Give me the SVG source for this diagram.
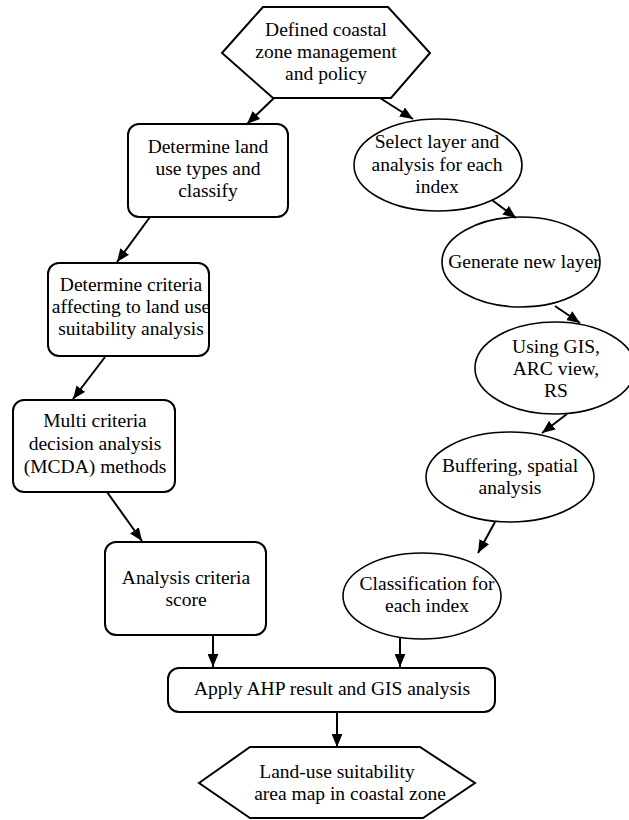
<svg xmlns="http://www.w3.org/2000/svg" width="629" height="820" viewBox="0 0 629 820">
<defs>
<style>
.n{fill:#fff;stroke:#000;stroke-width:2}
.e{fill:#fff;stroke:#000;stroke-width:1.6}
.t{font-family:'Liberation Serif','Times New Roman',serif;font-size:19.5px;fill:#000;text-anchor:middle}
.c line{stroke:#000;stroke-width:2;marker-end:url(#ah)}
</style>
<marker id="ah" viewBox="0 0 12 10" refX="12" refY="5" markerWidth="13" markerHeight="11" markerUnits="userSpaceOnUse" orient="auto">
<path d="M0,0 L12,5 L0,10 z" fill="#000"/>
</marker>
</defs>
<rect width="629" height="820" fill="#fff"/>

<g id="start">
<polygon class="n" points="222,53 263,7 388,7 430,53 391,98 273,98"/>
<text class="t" x="326" y="36">Defined coastal</text>
<text class="t" x="326" y="58">zone management</text>
<text class="t" x="326" y="80">and policy</text>
</g>

<g id="landuse">
<rect class="n" x="128" y="124" width="160" height="93" rx="11"/>
<text class="t" x="208" y="153">Determine land</text>
<text class="t" x="208" y="175">use types and</text>
<text class="t" x="208" y="197">classify</text>
</g>

<g id="criteria">
<rect x="48" y="263" width="161" height="93" rx="11" fill="#fff"/>
<text class="t" x="131" y="291">Determine criteria</text>
<text class="t" x="131" y="313">affecting to land use</text>
<text class="t" x="131" y="335">suitability analysis</text>
<rect x="48" y="263" width="161" height="93" rx="11" fill="none" stroke="#000" stroke-width="2"/>
</g>

<g id="mcda">
<rect class="n" x="13" y="400" width="162" height="92" rx="11"/>
<text class="t" x="95" y="427">Multi criteria</text>
<text class="t" x="95" y="450">decision analysis</text>
<text class="t" x="95" y="473">(MCDA) methods</text>
</g>

<g id="score">
<rect class="n" x="105" y="542" width="161" height="93" rx="11" stroke-width="2.6"/>
<text class="t" x="186" y="584">Analysis criteria</text>
<text class="t" x="186" y="606">score</text>
</g>

<g id="select">
<ellipse class="e" cx="438" cy="165" rx="84" ry="46"/>
<text class="t" x="437" y="148">Select layer and</text>
<text class="t" x="437" y="171">analysis for each</text>
<text class="t" x="437" y="193">index</text>
</g>

<g id="generate">
<ellipse class="e" cx="521" cy="262" rx="79" ry="45"/>
<text class="t" x="524" y="268">Generate new layer</text>
</g>

<g id="gis">
<ellipse class="e" cx="555" cy="368" rx="80" ry="46"/>
<text class="t" x="556" y="353">Using GIS,</text>
<text class="t" x="556" y="375">ARC view,</text>
<text class="t" x="556" y="397">RS</text>
</g>

<g id="buffer">
<ellipse class="e" cx="510" cy="477" rx="84" ry="45"/>
<text class="t" x="510" y="472">Buffering, spatial</text>
<text class="t" x="510" y="494">analysis</text>
</g>

<g id="classify">
<ellipse class="e" cx="422" cy="596" rx="79" ry="43"/>
<text class="t" x="427" y="590">Classification for</text>
<text class="t" x="427" y="612">each index</text>
</g>

<g id="apply">
<rect class="n" x="168" y="668" width="327" height="44" rx="11"/>
<text class="t" x="332" y="695">Apply AHP result and GIS analysis</text>
</g>

<g id="result">
<polygon class="n" points="199,783 250,747 420,747 475,783 423,818 250,818"/>
<text class="t" x="337" y="778">Land-use suitability</text>
<text class="t" x="350" y="800">area map in coastal zone</text>
</g>

<g id="connectors" class="c">
<line x1="274" y1="98" x2="247" y2="124"/>
<line x1="380" y1="98" x2="413" y2="119"/>
<line x1="150" y1="217" x2="117" y2="262"/>
<line x1="105" y1="357" x2="73" y2="399"/>
<line x1="107" y1="492" x2="142" y2="541"/>
<line x1="213" y1="635" x2="213" y2="667"/>
<line x1="492" y1="200" x2="516" y2="218"/>
<line x1="555" y1="306" x2="580" y2="323"/>
<line x1="567" y1="414" x2="542" y2="433"/>
<line x1="495" y1="522" x2="478" y2="553"/>
<line x1="400" y1="638" x2="400" y2="667"/>
<line x1="337" y1="712" x2="337" y2="747"/>
</g>
</svg>
